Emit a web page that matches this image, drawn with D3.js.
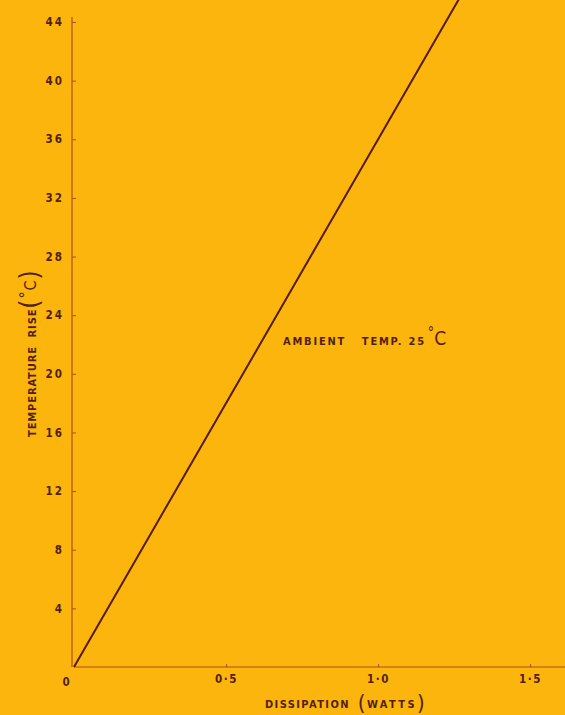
<!DOCTYPE html>
<html>
<head>
<meta charset="utf-8">
<script src="https://cdn.jsdelivr.net/npm/d3@7"></script>
<style>
  html, body { margin: 0; padding: 0; background: #fbb50d; }
  svg { display: block; }
  text { font-family: "DejaVu Sans Condensed", "DejaVu Sans", sans-serif; font-weight: bold; fill: #521f0f; white-space: pre; }
</style>
</head>
<body>
<svg id="chart" width="565" height="715"></svg>
<script>
// Temperature rise against power dissipation (ambient 25 °C)
const dissipation = [0, 1.27];          // watts
const tempRise = [0, 45.7];             // °C
const yTicks = [4, 8, 12, 16, 20, 24, 28, 32, 36, 40, 44];
const xTicks = [0.5, 1.0, 1.5];
const xTickLabels = ["0·5", "1·0", "1·5"];

const svg = d3.select("#chart");
const W = 565, H = 715;

const x = d3.scaleLinear().domain([0, 1.5]).range([74, 530]);
const y = d3.scaleLinear().domain([0, 44]).range([667, 22]);

const axisColor = "#a9521c";
const inkColor = "#521f0f";

// X axis
const xAxis = svg.append("g").attr("transform", `translate(0,${y(0)})`)
  .call(d3.axisBottom(x).tickValues(xTicks).tickSize(-3).tickSizeOuter(0)
    .tickFormat((d, i) => xTickLabels[i]));
xAxis.select(".domain").remove();
xAxis.append("line").attr("x1", x(0)).attr("x2", W)
  .attr("stroke", axisColor).attr("stroke-width", 1.2);
xAxis.selectAll(".tick line").attr("stroke", axisColor).attr("stroke-width", 1);
xAxis.selectAll(".tick text").attr("dy", "1.1em").attr("font-size", 11.5)
  .attr("letter-spacing", 1.5).attr("fill", inkColor);

// Y axis
const yAxis = svg.append("g").attr("transform", `translate(${x(0) - 2},0)`)
  .call(d3.axisLeft(y).tickValues(yTicks).tickSize(-4).tickSizeOuter(0).tickPadding(8));
yAxis.select(".domain").remove();
yAxis.append("line").attr("y1", 17).attr("y2", y(0))
  .attr("stroke", axisColor).attr("stroke-width", 1.2);
yAxis.selectAll(".tick line").attr("stroke", axisColor).attr("stroke-width", 1);
yAxis.selectAll(".tick text").attr("font-size", 11.5).attr("letter-spacing", 2)
  .attr("fill", inkColor);

// Origin label
svg.append("text").attr("x", 66).attr("y", 686).attr("text-anchor", "middle")
  .attr("font-size", 11.5).text("0");

// Data line
const line = d3.line().x(d => x(d[0])).y(d => y(d[1]));
svg.append("path")
  .datum(dissipation.map((d, i) => [d, tempRise[i]]))
  .attr("d", line)
  .attr("fill", "none")
  .attr("stroke", "#561a0e")
  .attr("stroke-width", 2);

// Annotation
const ann = svg.append("text").attr("x", 283).attr("y", 345)
  .attr("font-size", 11).attr("letter-spacing", 1.8);
ann.append("tspan").text("AMBIENT   TEMP. 25");
ann.append("tspan").attr("font-size", 14).attr("font-weight", "normal")
  .attr("dy", -8).attr("dx", 2).attr("letter-spacing", 0).text("°");
ann.append("tspan").attr("font-size", 19).attr("font-weight", "normal")
  .attr("dy", 8).attr("letter-spacing", 0).text("C");

// X axis title
const xt = svg.append("text").attr("x", 265).attr("y", 708)
  .attr("font-size", 11).attr("letter-spacing", 1.4);
xt.append("tspan").text("DISSIPATION ");
xt.append("tspan").attr("font-size", 22).attr("font-weight", "normal").attr("dy", 2).attr("dx", 3).text("(");
xt.append("tspan").attr("dy", -2).attr("letter-spacing", 2.4).text("WATTS");
xt.append("tspan").attr("font-size", 22).attr("font-weight", "normal").attr("dy", 2).text(")");

// Y axis title
const yt = svg.append("text")
  .attr("transform", "translate(36,437) rotate(-90)")
  .attr("font-size", 11).attr("letter-spacing", 0.9);
yt.append("tspan").text("TEMPERATURE  RISE");
yt.append("tspan").attr("font-size", 26).attr("font-weight", "normal").attr("dy", 2).text("(");
yt.append("tspan").attr("font-size", 16).attr("font-weight", "normal").attr("dy", -7).text("°");
yt.append("tspan").attr("font-size", 16).attr("font-weight", "normal").attr("dy", 5).text("C");
yt.append("tspan").attr("font-size", 26).attr("font-weight", "normal").attr("dy", 2).text(")");
</script>
</body>
</html>
